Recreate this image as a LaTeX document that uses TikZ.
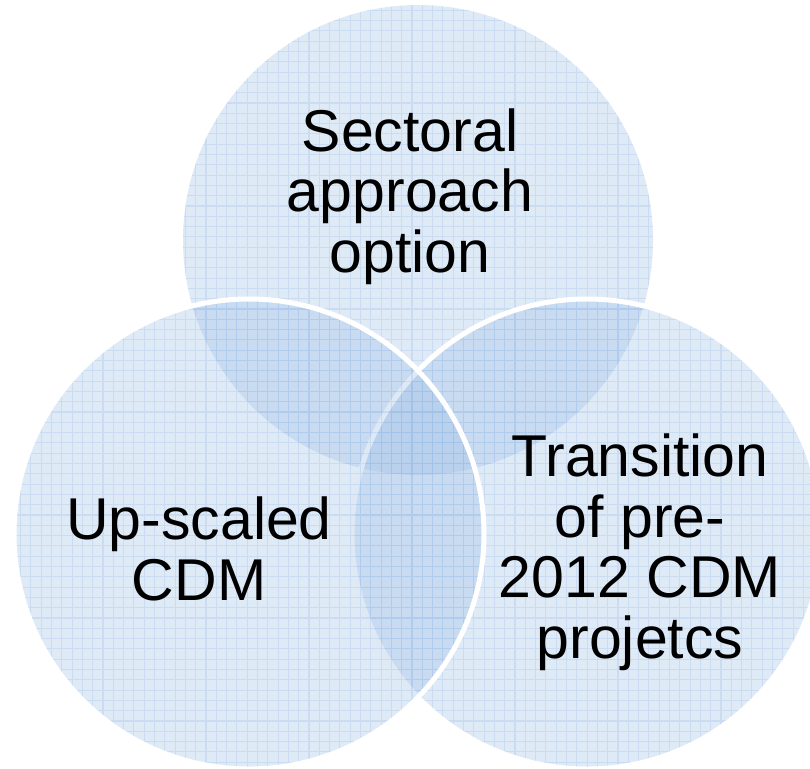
\documentclass[tikz,border=0pt]{standalone}
\usepackage{fontspec}
\setmainfont{Liberation Sans}
\definecolor{vennblue}{RGB}{150,185,228}
\begin{document}
\begin{tikzpicture}[x=0.5pt,y=-0.5pt,
  discfill/.style={fill=vennblue, fill opacity=0.3},
  discgrid/.style={draw=vennblue, opacity=0.28, line width=0.55pt, step=5.15pt},
  discrim/.style={draw=white, line width=2.5pt},
  lbl/.style={font=\fontsize{29.5}{30.2}\selectfont, align=center, inner sep=0pt, text=black}]
\useasboundingbox (0,0) rectangle (810,768);
\clip (0,0) rectangle (810,768);
\def\vennr{117.5pt}
\coordinate (cT) at (418,240);
\coordinate (cR) at (587,534);
\coordinate (cL) at (249,534);

% upper disc
\fill[discfill] (cT) circle[radius=\vennr];
\begin{scope}
  \clip (cT) circle[radius=\vennr];
  \draw[discgrid] (0,0) grid (810,768);
\end{scope}

% right disc
\fill[discfill] (cR) circle[radius=\vennr];
\begin{scope}
  \clip (cR) circle[radius=\vennr];
  \draw[discgrid] (0,0) grid (810,768);
\end{scope}
\draw[discrim] (cR) circle[radius=\vennr];

% left disc
\fill[discfill] (cL) circle[radius=\vennr];
\begin{scope}
  \clip (cL) circle[radius=\vennr];
  \draw[discgrid] (0,0) grid (810,768);
\end{scope}
\draw[discrim] (cL) circle[radius=\vennr];

% labels (anchored on the baseline of their last line)
\node[lbl, anchor=base] (sectoral) at (410,272) {Sectoral\\approach\\option};
\node[lbl, anchor=base] (upscaled) at (199,600) {Up-scaled\\CDM};
\node[lbl, anchor=base] (transition) at (640,658) {Transition\\of pre-\\2012 CDM\\projetcs};
\end{tikzpicture}
\end{document}
